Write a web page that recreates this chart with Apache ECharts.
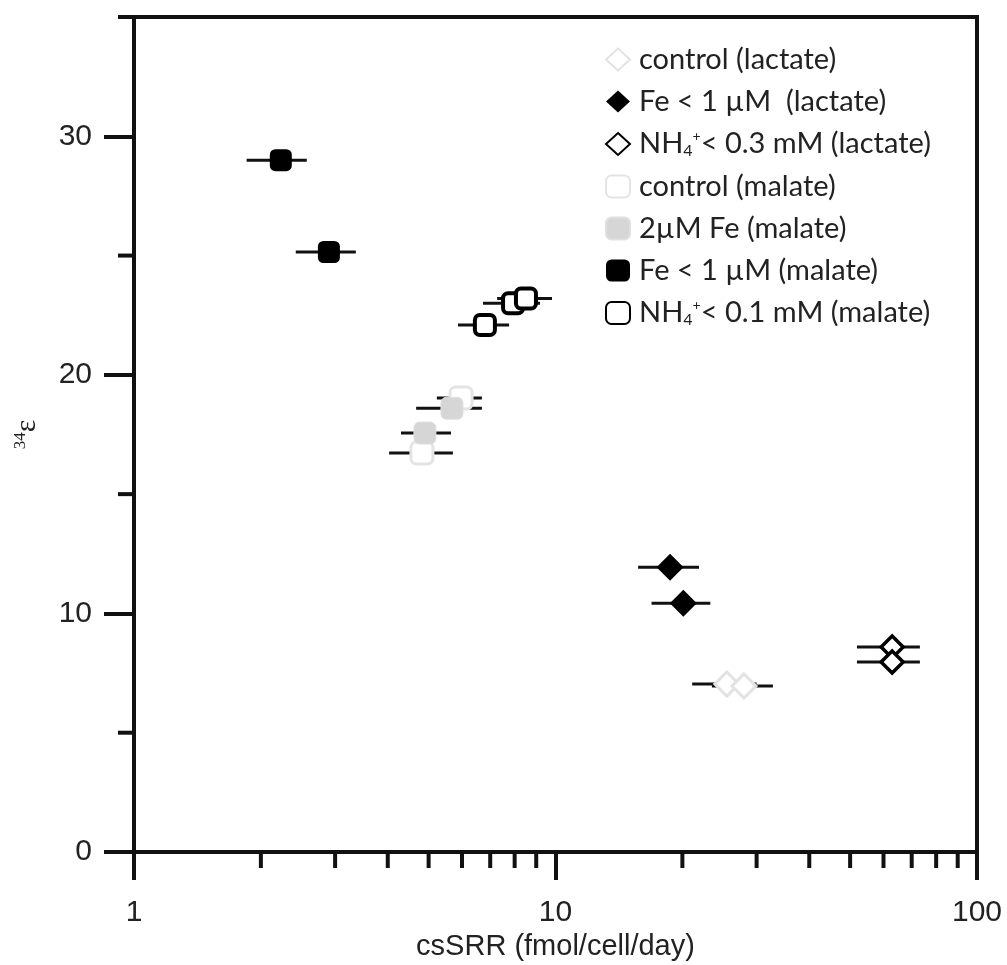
<!DOCTYPE html>
<html>
<head>
<meta charset="utf-8">
<script src="https://cdn.jsdelivr.net/npm/echarts@6/dist/echarts.min.js"></script>
<style>
  html, body { margin: 0; padding: 0; background: #fff; }
  #chart { width: 1007px; height: 965px; }
</style>
</head>
<body>
<div id="chart"></div>
<script>
// Each point: [csSRR, 34ε, csSRR low, csSRR high]
const controlLactate    = [[25.5, 7.04, 21.1, 30.0], [28.0, 6.96, 23.5, 32.8]];
const feLimitedLactate  = [[18.7, 11.94, 15.7, 21.9], [20.1, 10.43, 16.9, 23.3]];
const nh4LimitedLactate = [[62.9, 8.59, 51.9, 73.2], [62.9, 7.96, 51.9, 73.2]];
const controlMalate     = [[5.97, 19.03, 5.23, 6.69], [4.82, 16.72, 4.03, 5.71]];
const fe2Malate         = [[4.90, 17.56, 4.30, 5.65], [5.68, 18.6, 4.67, 6.69]];
const feLimitedMalate   = [[2.23, 29.0, 1.85, 2.57], [2.90, 25.15, 2.42, 3.36]];
const nh4LimitedMalate  = [[6.80, 22.09, 5.87, 7.76], [7.93, 23.0, 6.73, 9.19], [8.51, 23.2, 7.27, 9.81]];

// Axis ticks
const xMajorTicks = [1, 10, 100];
const xMinorTicks = [2, 3, 4, 5, 6, 7, 8, 9, 20, 30, 40, 50, 60, 70, 80, 90];
const yMajorTicks = [0, 10, 20, 30];
const yMinorTicks = [5, 15, 25, 35];

// Legend labels (rich text for NH4+)
const legendLabels = {
  'control (lactate)': '{t|control (lactate)}',
  'Fe < 1 µM  (lactate)': '{t|Fe < 1 µM  (lactate)}',
  'NH4+ < 0.3 mM (lactate)': '{t|NH}{sub|4}{sup|+}{t|< 0.3 mM (lactate)}',
  'control (malate)': '{t|control (malate)}',
  '2µM Fe (malate)': '{t|2µM Fe (malate)}',
  'Fe < 1 µM (malate)': '{t|Fe < 1 µM (malate)}',
  'NH4+ < 0.1 mM (malate)': '{t|NH}{sub|4}{sup|+}{t|< 0.1 mM (malate)}'
};

const allPoints = [].concat(controlLactate, feLimitedLactate, nh4LimitedLactate,
  controlMalate, fe2Malate, feLimitedMalate, nh4LimitedMalate);

function renderErrorBar(params, api) {
  const y = api.value(1);
  const a = api.coord([api.value(2), y]);
  const b = api.coord([api.value(3), y]);
  return {
    type: 'line',
    shape: { x1: a[0], y1: a[1], x2: b[0], y2: b[1] },
    style: { stroke: '#111', lineWidth: 3 }
  };
}

function renderXMinor(params, api) {
  const p = api.coord([api.value(0), 0]);
  return {
    type: 'line',
    shape: { x1: p[0], y1: p[1], x2: p[0], y2: p[1] + 16 },
    style: { stroke: '#111', lineWidth: 4 }
  };
}

function renderYMinor(params, api) {
  const p = api.coord([1, api.value(1)]);
  return {
    type: 'line',
    shape: { x1: p[0] - 16, y1: p[1], x2: p[0], y2: p[1] },
    style: { stroke: '#111', lineWidth: 4 }
  };
}

function scatter(name, data, symbol, size, itemStyle) {
  return {
    name: name,
    type: 'scatter',
    data: data.map(d => [d[0], d[1]]),
    symbol: symbol,
    symbolSize: size,
    itemStyle: Object.assign({ opacity: 1 }, itemStyle),
    z: 5,
    emphasis: { disabled: true }
  };
}

const chart = echarts.init(document.getElementById('chart'), null, { renderer: 'canvas' });

chart.setOption({
  animation: false,
  backgroundColor: '#fff',
  grid: {
    left: 134, right: 30, top: 17, bottom: 113,
    outerBoundsMode: 'none',
    containLabel: false,
    show: true, borderColor: '#111', borderWidth: 4, backgroundColor: 'transparent'
  },
  legend: {
    orient: 'vertical',
    left: 600,
    top: 40,
    itemWidth: 24,
    itemHeight: 22,
    itemGap: 13,
    data: Object.keys(legendLabels),
    formatter: name => legendLabels[name],
    selectedMode: false,
    textStyle: {
      padding: [0, 0, 0, 4],
      rich: {
        t: { fontFamily: 'Lato', fontSize: 29, color: '#222', lineHeight: 30 },
        sub: { fontFamily: 'Lato', fontSize: 16, color: '#222', lineHeight: 30, verticalAlign: 'bottom' },
        sup: { fontFamily: 'Lato', fontSize: 14, color: '#222', lineHeight: 30, verticalAlign: 'top' }
      }
    }
  },
  xAxis: {
    type: 'log',
    logBase: 10,
    min: 1,
    max: 100,
    splitLine: { show: false },
    axisLine: { onZero: false, lineStyle: { color: '#111', width: 4 } },
    axisTick: { customValues: xMajorTicks, length: 28, lineStyle: { color: '#111', width: 4 } },
    axisLabel: {
      customValues: xMajorTicks, margin: 46,
      fontFamily: 'Liberation Sans', fontSize: 30, color: '#222'
    },
    name: 'csSRR (fmol/cell/day)',
    nameLocation: 'middle',
    nameGap: 76,
    nameTextStyle: { fontFamily: 'Liberation Sans', fontSize: 29, color: '#222' }
  },
  yAxis: {
    type: 'value',
    min: 0,
    max: 35,
    splitLine: { show: false },
    axisLine: { onZero: false, lineStyle: { color: '#111', width: 4 } },
    axisTick: { customValues: yMajorTicks, length: 30, lineStyle: { color: '#111', width: 4 } },
    axisLabel: {
      customValues: yMajorTicks, margin: 42,
      fontFamily: 'Liberation Sans', fontSize: 30, color: '#222'
    },
    name: '{s|34}{e|ε}',
    nameLocation: 'middle',
    nameRotate: 90,
    nameGap: 92,
    nameTextStyle: {
      rich: {
        s: { fontFamily: 'Liberation Serif', fontSize: 17, color: '#222', verticalAlign: 'top', lineHeight: 30 },
        e: { fontFamily: 'Liberation Serif', fontSize: 30, color: '#222', lineHeight: 30 }
      }
    }
  },
  series: [
    {
      type: 'custom', name: 'xMinorTicks', renderItem: renderXMinor, clip: false, silent: true, z: 1,
      data: xMinorTicks.map(v => [v, 0])
    },
    {
      type: 'custom', name: 'yMinorTicks', renderItem: renderYMinor, clip: false, silent: true, z: 1,
      data: yMinorTicks.map(v => [1, v])
    },
    {
      type: 'custom', name: 'errorBars', renderItem: renderErrorBar, silent: true, z: 2,
      encode: { x: [0, 2, 3], y: 1 },
      data: allPoints
    },
    scatter('control (lactate)', controlLactate, 'diamond', 24,
      { color: '#fff', borderColor: '#e2e2e2', borderWidth: 3 }),
    scatter('Fe < 1 µM  (lactate)', feLimitedLactate, 'diamond', 27,
      { color: '#000' }),
    scatter('NH4+ < 0.3 mM (lactate)', nh4LimitedLactate, 'diamond', 22,
      { color: '#fff', borderColor: '#000', borderWidth: 3.5 }),
    scatter('control (malate)', controlMalate, 'roundRect', 22,
      { color: '#fff', borderColor: '#e4e4e4', borderWidth: 3 }),
    scatter('2µM Fe (malate)', fe2Malate, 'roundRect', 22,
      { color: '#d6d6d6', borderColor: '#e0e0e0', borderWidth: 1 }),
    scatter('Fe < 1 µM (malate)', feLimitedMalate, 'roundRect', 22,
      { color: '#000' }),
    scatter('NH4+ < 0.1 mM (malate)', nh4LimitedMalate, 'roundRect', 20,
      { color: '#fff', borderColor: '#000', borderWidth: 4 })
  ]
});
</script>
</body>
</html>
